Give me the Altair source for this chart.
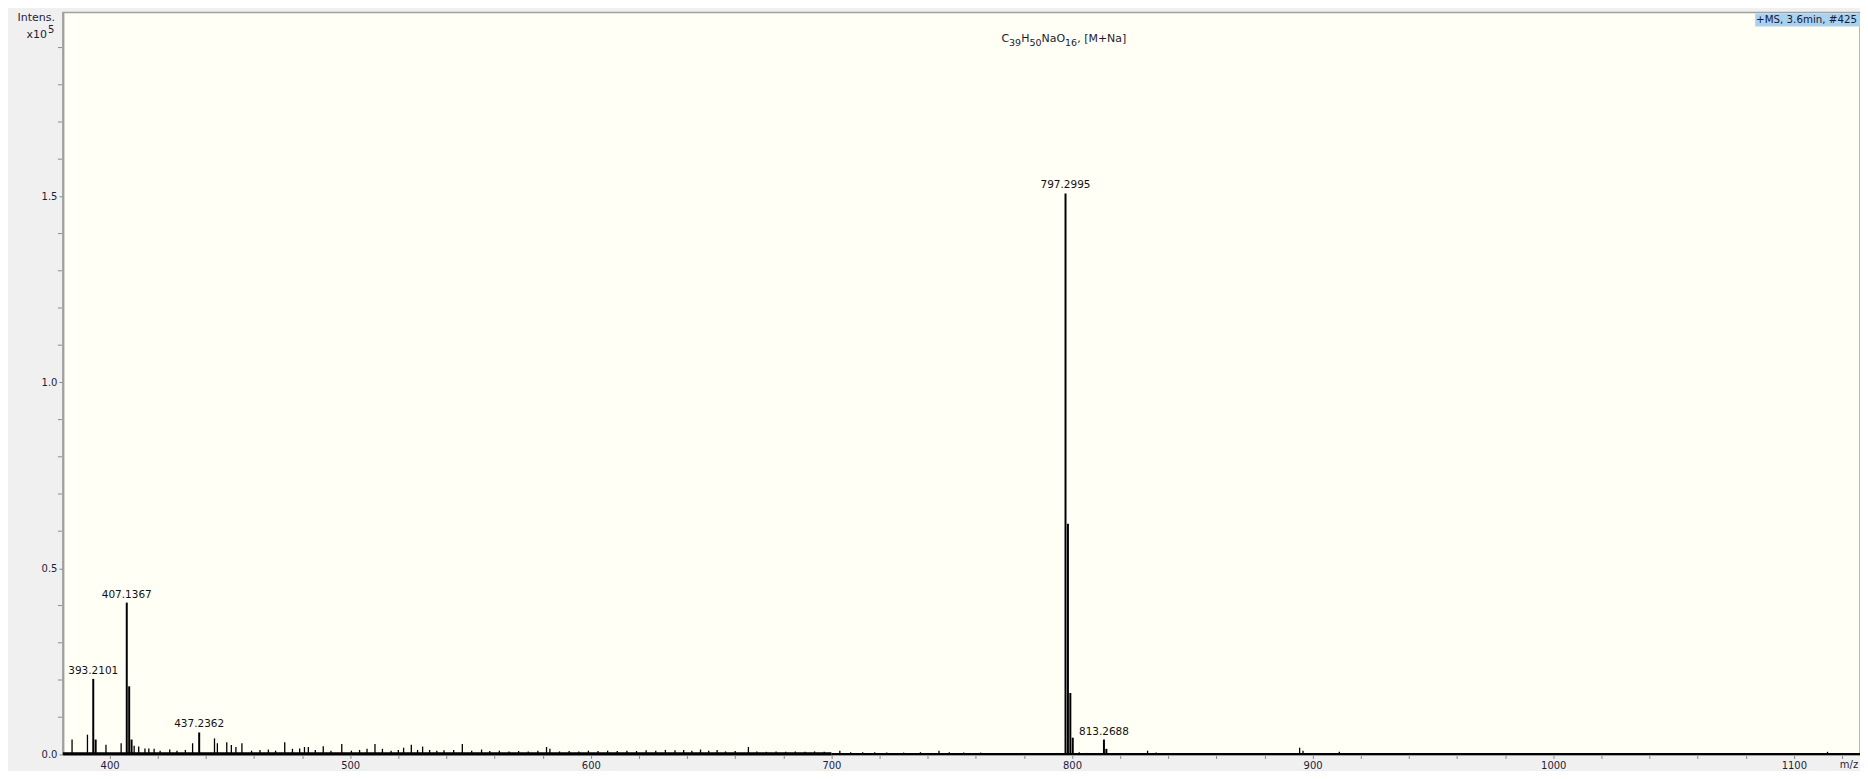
import altair as alt
import pandas as pd

# ---------------- data (intensity in units of 10^5) ----------------
major_mz = [393.2101, 394.21, 407.1367, 408.14, 409.14, 437.2362,
            797.2995, 798.30, 799.30, 800.30, 813.2688, 814.27]
major_int = [0.203, 0.040, 0.408, 0.183, 0.040, 0.059,
             1.508, 0.620, 0.165, 0.045, 0.040, 0.015]

minor_mz = [384.4, 390.8, 398.5, 404.8, 410.2, 412.1, 414.7, 416.3, 418.5, 421.0,
            425.0, 428.0, 431.5, 434.5, 443.6, 444.8, 448.7, 450.6, 452.5, 455.0,
            459.0, 462.5, 466.0, 469.0, 472.8, 476.0, 479.0, 481.0, 482.6, 485.5,
            488.8, 492.0, 496.5, 500.5, 503.9, 507.0, 510.3, 513.4, 517.0, 520.0,
            522.2, 525.4, 528.0, 530.1, 533.0, 536.0, 539.0, 543.0, 546.6, 550.5,
            554.6, 558.0, 562.0, 566.0, 570.0, 574.0, 578.0, 581.6, 583.0, 587.0,
            591.0, 595.0, 599.0, 603.0, 607.0, 611.0, 615.0, 619.0, 623.0, 627.0,
            631.0, 635.0, 638.6, 642.0, 645.6, 649.0, 652.5, 656.0, 660.0, 665.5,
            669.0, 673.0, 677.0, 681.0, 685.0, 689.0, 693.0, 697.0, 703.5, 708.0,
            713.0, 718.0, 723.0, 730.0, 737.0, 744.7, 749.0, 755.0, 762.0, 770.0,
            779.0, 787.0, 794.0, 803.0, 806.0, 831.4, 835.0, 842.0, 851.0, 894.6,
            896.0, 911.1, 1114.0]
minor_int = [0.040, 0.053, 0.026, 0.030, 0.023, 0.021, 0.016, 0.016, 0.015, 0.010,
             0.013, 0.010, 0.012, 0.030, 0.043, 0.030, 0.033, 0.025, 0.020, 0.030,
             0.010, 0.012, 0.013, 0.010, 0.033, 0.015, 0.016, 0.020, 0.020, 0.012,
             0.022, 0.010, 0.028, 0.010, 0.012, 0.015, 0.028, 0.015, 0.010, 0.012,
             0.018, 0.026, 0.012, 0.021, 0.012, 0.010, 0.011, 0.012, 0.028, 0.010,
             0.013, 0.009, 0.010, 0.008, 0.009, 0.008, 0.010, 0.020, 0.015, 0.008,
             0.009, 0.008, 0.010, 0.009, 0.010, 0.009, 0.010, 0.009, 0.011, 0.010,
             0.012, 0.011, 0.012, 0.010, 0.013, 0.010, 0.012, 0.008, 0.009, 0.020,
             0.008, 0.007, 0.008, 0.007, 0.008, 0.007, 0.008, 0.007, 0.010, 0.006,
             0.006, 0.006, 0.005, 0.005, 0.006, 0.010, 0.006, 0.005, 0.005, 0.004,
             0.004, 0.004, 0.004, 0.006, 0.004, 0.010, 0.005, 0.004, 0.004, 0.018,
             0.010, 0.007, 0.007]

label_mz = [393.2101, 407.1367, 437.2362, 797.2995, 813.2688]
label_int = [0.203, 0.408, 0.059, 1.508, 0.040]
label_txt = ["393.2101", "407.1367", "437.2362", "797.2995", "813.2688"]

x_ticks = [400, 420, 440, 460, 480, 500, 520, 540, 560, 580, 600, 620, 640, 660,
           680, 700, 720, 740, 760, 780, 800, 820, 840, 860, 880, 900, 920, 940,
           960, 980, 1000, 1020, 1040, 1060, 1080, 1100, 1120]
y_major = [0.0, 0.5, 1.0, 1.5]
y_minor = [0.1, 0.2, 0.3, 0.4, 0.6, 0.7, 0.8, 0.9, 1.1, 1.2, 1.3, 1.4,
           1.6, 1.7, 1.8, 1.9]

X_MIN, X_MAX = 380.6, 1127.5
Y_MAX = 1.994
noise_end = 700.0

major = pd.DataFrame({"mz": major_mz, "intensity": major_int})
minor = pd.DataFrame({"mz": minor_mz, "intensity": minor_int})
labels = pd.DataFrame({"mz": label_mz, "intensity": label_int, "txt": label_txt})
floor_noisy = pd.DataFrame({"a": [X_MIN], "b": [noise_end]})
floor_flat = pd.DataFrame({"a": [noise_end], "b": [X_MAX]})
yminor_df = pd.DataFrame({"v": y_minor})

FONT = "DejaVu Sans"
TICK_C = "#8a8a8a"
xscale = alt.Scale(domain=[X_MIN, X_MAX], nice=False, zero=False)
yscale = alt.Scale(domain=[0, Y_MAX], nice=False)

xaxis = alt.Axis(values=x_ticks, title=None, grid=False, labelOverlap=False,
                 labelExpr="datum.value % 100 == 0 ? format(datum.value, 'd') : ''",
                 domainColor="#a0a0a0", domainWidth=2, tickColor=TICK_C,
                 tickSize=4, labelFont=FONT, labelFontSize=10,
                 labelColor="#1c1c3c", labelPadding=2, labelFlush=False)
yaxis = alt.Axis(values=y_major, title=None, grid=False, labelOverlap=False,
                 format=".1f",
                 domainColor="#a0a0a0", domainWidth=2, tickColor=TICK_C,
                 tickSize=4, labelFont=FONT, labelFontSize=10,
                 labelColor="#1c1c3c", labelPadding=2, labelFlush=False)

major_layer = alt.Chart(major).transform_calculate(base="0").mark_rule(
    color="black", strokeWidth=2).encode(
    x=alt.X("mz:Q", scale=xscale, axis=xaxis),
    y=alt.Y("intensity:Q", scale=yscale, axis=yaxis),
    y2="base:Q",
)
minor_layer = alt.Chart(minor).transform_calculate(base="0").mark_rule(
    color="black", strokeWidth=1.3).encode(
    x=alt.X("mz:Q", scale=xscale),
    y=alt.Y("intensity:Q", scale=yscale),
    y2="base:Q",
)
noise_floor = alt.Chart(floor_noisy).transform_calculate(lvl="0.002").mark_rule(
    color="black", strokeWidth=3).encode(
    x=alt.X("a:Q", scale=xscale), x2="b:Q",
    y=alt.Y("lvl:Q", scale=yscale))
flat_floor = alt.Chart(floor_flat).transform_calculate(lvl="0.001").mark_rule(
    color="black", strokeWidth=2).encode(
    x=alt.X("a:Q", scale=xscale), x2="b:Q",
    y=alt.Y("lvl:Q", scale=yscale))

# minor ticks of the intensity axis (same length as the major ticks)
y_minor_ticks = alt.Chart(yminor_df).mark_rule(color=TICK_C, strokeWidth=1).encode(
    x=alt.value(-5), x2=alt.value(-1),
    y=alt.Y("v:Q", scale=yscale),
)

peak_labels = alt.Chart(labels).mark_text(
    font=FONT, fontSize=10.5, baseline="bottom", dy=-3, color="#111111").encode(
    x=alt.X("mz:Q", scale=xscale),
    y=alt.Y("intensity:Q", scale=yscale),
    text="txt:N",
)

one = pd.DataFrame({"k": [0]})


def note(txt, x, y, align="center", size=11, color="#1c1c3c"):
    return alt.Chart(one).mark_text(
        text=txt, font=FONT, fontSize=size, align=align, baseline="middle",
        color=color).encode(x=alt.value(x), y=alt.value(y))


ms_box = alt.Chart(one).mark_rect(color="#a9d1f0").encode(
    x=alt.value(1695), x2=alt.value(1800), y=alt.value(1), y2=alt.value(14))

# formula title built from pieces (normal text + lowered subscripts)
TC = "#1a1a30"
title_parts = [
    note("C", 940, 26, align="left", size=11, color=TC),
    note("39", 947.7, 30, align="left", size=9.5, color=TC),
    note("H", 959.8, 26, align="left", size=11, color=TC),
    note("50", 968.1, 30, align="left", size=9.5, color=TC),
    note("NaO", 980.2, 26, align="left", size=11, color=TC),
    note("16", 1003.8, 30, align="left", size=9.5, color=TC),
    note(", [M+Na]", 1015.9, 26, align="left", size=11, color=TC),
]

chart = alt.layer(
    major_layer, minor_layer, flat_floor, noise_floor, y_minor_ticks, peak_labels,
    ms_box,
    note("+MS, 3.6min, #425", 1797, 7.5, align="right", size=10.3, color=TC),
    *title_parts,
    note("Intens.", -8, 5, align="right", size=11),
    note("x10", -16, 22, align="right", size=11),
    note("5", -15, 17, align="left", size=10),
    note("m/z", 1789, 754, size=10),
).properties(
    width=1800, height=743,
    autosize=alt.AutoSizeParams(type="none"),
    padding={"left": 55, "top": 4, "right": 0, "bottom": 16},
    background="#f0f0f0",
).configure_view(
    fill="#fffff6", stroke="#a0a0a0", strokeWidth=1.5,
)

chart.save("out.html", embed_options={"renderer": "svg", "actions": False})
